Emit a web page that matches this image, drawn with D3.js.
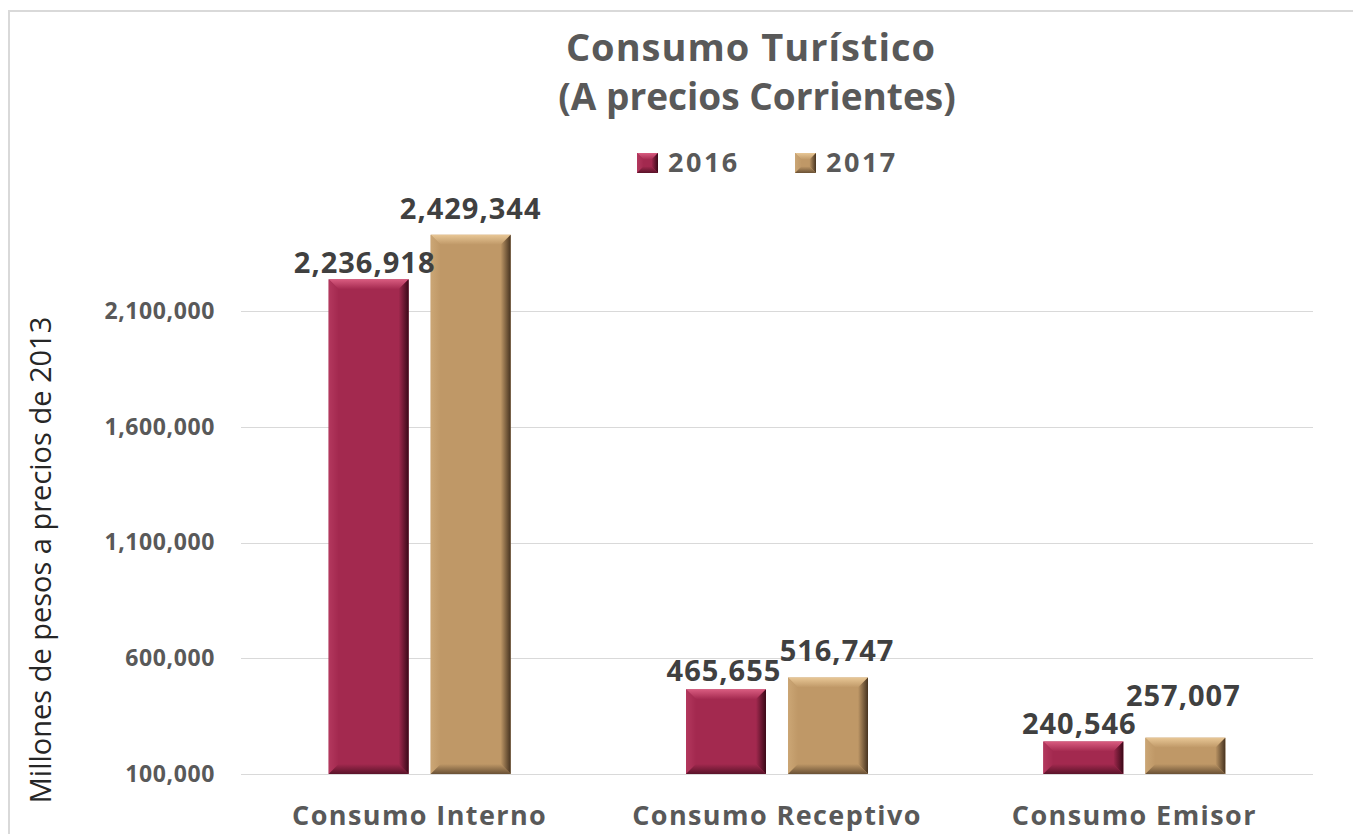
<!DOCTYPE html>
<html>
<head>
<meta charset="utf-8">
<script src="https://cdn.jsdelivr.net/npm/d3@7"></script>
<style>
  body { margin: 0; background: #fff; }
  text { font-family: "Open Sans", "Noto Sans", sans-serif; }
</style>
</head>
<body>
<div id="chart-area"></div>
<script>
var categories = ["Consumo Interno", "Consumo Receptivo", "Consumo Emisor"];
var years = ["2016", "2017"];
var values2016 = [2236918, 465655, 240546];
var values2017 = [2429344, 516747, 257007];
var yTicks = [100000, 600000, 1100000, 1600000, 2100000];

// label placement tweaks (gap above bar, horizontal shift), as in the original
var labelGap = { "2016": [6, 8, 7], "2017": [16, 17, 32] };
var labelShift = { "2016": [-4, -2, -4], "2017": [0, 9, -2] };

var colors = { "2016": "#a3294f", "2017": "#bf9867" };
var light = { "2016": "#d95c80", "2017": "#e8c796" };
var dark = { "2016": "#3a0918", "2017": "#463320" };

var data = categories.map(function(c, i) {
  return { cat: c, i: i, vals: [
    { year: "2016", value: values2016[i] },
    { year: "2017", value: values2017[i] }
  ]};
});

var svg = d3.select("#chart-area")
  .append("svg")
  .attr("width", 1353)
  .attr("height", 834);

// chart frame
svg.append("path")
  .attr("d", "M9,834 V11 H1353")
  .attr("fill", "none")
  .attr("stroke", "#d9d9d9")
  .attr("stroke-width", 2);

var left = 241, right = 1313;

var y = d3.scaleLinear()
  .domain([100000, 2500000])
  .range([774, 774 - 2400000 * 463 / 2000000]);

var x0 = d3.scaleBand()
  .domain(categories)
  .range([left, right])
  .padding(0);

var groupW = 182;
var x1 = d3.scaleBand()
  .domain(years)
  .range([0, groupW])
  .paddingInner(0.216);

// gridlines
svg.append("g")
  .selectAll("line")
  .data(yTicks)
  .enter()
  .append("line")
  .attr("x1", left)
  .attr("x2", right)
  .attr("y1", function(d) { return Math.round(y(d)) + 0.5; })
  .attr("y2", function(d) { return Math.round(y(d)) + 0.5; })
  .attr("stroke", "#d9d9d9")
  .attr("stroke-width", 1);

// y axis labels
var yAxis = d3.axisLeft(y)
  .tickValues(yTicks)
  .tickFormat(d3.format(","))
  .tickSize(0)
  .tickPadding(0);

var yg = svg.append("g")
  .attr("transform", "translate(215,0)")
  .call(yAxis);
yg.select(".domain").remove();
yg.selectAll("text")
  .attr("font-family", "Open Sans")
  .attr("font-size", 23)
  .attr("letter-spacing", 0.6)
  .attr("font-weight", "bold")
  .attr("fill", "#595959");

// y title
svg.append("text")
  .attr("transform", "translate(51,560) rotate(-90)")
  .attr("text-anchor", "middle")
  .attr("font-size", 29)
  .attr("fill", "#262626")
  .text("Millones de pesos a precios de 2013");

// title
svg.append("text")
  .attr("x", 751)
  .attr("y", 61)
  .attr("text-anchor", "middle")
  .attr("font-size", 38)
  .attr("letter-spacing", 1)
  .attr("font-weight", "bold")
  .attr("fill", "#595959")
  .text("Consumo Turístico");
svg.append("text")
  .attr("x", 757)
  .attr("y", 110)
  .attr("text-anchor", "middle")
  .attr("font-size", 37)
  .attr("font-weight", "bold")
  .attr("fill", "#595959")
  .text("(A precios Corrientes)");

// bevel drawing
function bevel(g, x, yTop, w, h, year, bw) {
  var b = Math.min(bw, h / 3);
  var x2 = x + w, y2 = yTop + h;
  g.append("rect")
    .attr("x", x).attr("y", yTop).attr("width", w).attr("height", h)
    .attr("fill", colors[year]);
  g.append("polygon")
    .attr("points", [[x, yTop], [x2, yTop], [x2 - b, yTop + b], [x + b, yTop + b]].join(" "))
    .attr("fill", "url(#top" + year + ")");
  g.append("polygon")
    .attr("points", [[x, yTop], [x + b, yTop + b], [x + b, y2 - b], [x, y2]].join(" "))
    .attr("fill", "url(#left" + year + ")");
  g.append("polygon")
    .attr("points", [[x2, yTop], [x2, y2], [x2 - b, y2 - b], [x2 - b, yTop + b]].join(" "))
    .attr("fill", "url(#right" + year + ")");
  g.append("polygon")
    .attr("points", [[x, y2], [x + b, y2 - b], [x2 - b, y2 - b], [x2, y2]].join(" "))
    .attr("fill", "url(#bottom" + year + ")");
}

var defs = svg.append("defs");
years.forEach(function(yr) {
  var specs = [
    ["top", 0, 0, 0, 1, light[yr], colors[yr]],
    ["left", 0, 0, 1, 0, d3.interpolateRgb(colors[yr], light[yr])(0.3), colors[yr]],
    ["right", 1, 0, 0, 0, dark[yr], colors[yr]],
    ["bottom", 0, 1, 0, 0, d3.interpolateRgb(dark[yr], colors[yr])(0.3), colors[yr]]
  ];
  specs.forEach(function(s) {
    var lg = defs.append("linearGradient")
      .attr("id", s[0] + yr)
      .attr("x1", s[1]).attr("y1", s[2]).attr("x2", s[3]).attr("y2", s[4]);
    lg.append("stop").attr("offset", 0).attr("stop-color", s[5]);
    lg.append("stop").attr("offset", 1).attr("stop-color", s[6]);
  });
});

var groups = svg.selectAll("g.cat")
  .data(data)
  .enter()
  .append("g")
  .attr("class", "cat")
  .attr("transform", function(d) {
    return "translate(" + (x0(d.cat) + (x0.bandwidth() - groupW) / 2) + ",0)";
  });

groups.each(function(d) {
  var g = d3.select(this);
  d.vals.forEach(function(v) {
    bevel(g, x1(v.year), y(v.value), x1.bandwidth(), y(100000) - y(v.value), v.year, 10);
  });
});
groups.each(function(d) {
  var g = d3.select(this);
  d.vals.forEach(function(v) {
    g.append("text")
      .attr("x", x1(v.year) + x1.bandwidth() / 2 + labelShift[v.year][d.i])
      .attr("y", y(v.value) - labelGap[v.year][d.i])
      .attr("text-anchor", "middle")
      .attr("font-size", 29)
      .attr("letter-spacing", 1)
      .attr("font-weight", "bold")
      .attr("fill", "#404040")
      .text(d3.format(",")(v.value));
  });
});

// category labels
svg.append("g")
  .selectAll("text")
  .data(categories)
  .enter()
  .append("text")
  .attr("x", function(d) { return x0(d) + x0.bandwidth() / 2; })
  .attr("y", 825)
  .attr("text-anchor", "middle")
  .attr("font-size", 27)
  .attr("letter-spacing", 1.4)
  .attr("font-weight", "bold")
  .attr("fill", "#595959")
  .text(function(d) { return d; });

// legend
var legendX = [637, 795];
var legend = svg.selectAll("g.legend")
  .data(years)
  .enter()
  .append("g")
  .attr("class", "legend")
  .attr("transform", function(d, i) { return "translate(" + legendX[i] + ",153)"; });
legend.each(function(d) {
  bevel(d3.select(this), 0, 0, 21, 20, d, 10);
});
legend.append("text")
  .attr("x", 31)
  .attr("y", 19)
  .attr("font-size", 27)
  .attr("letter-spacing", 2.5)
  .attr("font-weight", "bold")
  .attr("fill", "#595959")
  .text(function(d) { return d; });
</script>
</body>
</html>
